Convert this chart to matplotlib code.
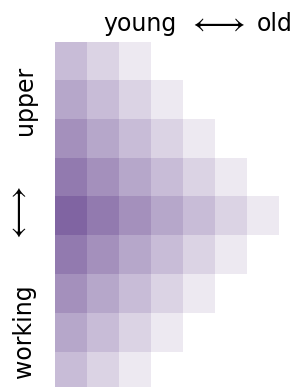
import numpy as np
import matplotlib.pyplot as plt
from matplotlib.colors import to_rgba

plt.rcParams['mathtext.fontset'] = 'cm'

# shade level per cell (row 0 = top "upper", row 8 = bottom "working"), 0 = empty
levels = [
    [3, 2, 1, 0, 0, 0, 0],
    [4, 3, 2, 1, 0, 0, 0],
    [5, 4, 3, 2, 1, 0, 0],
    [6, 5, 4, 3, 2, 1, 0],
    [7, 6, 5, 4, 3, 2, 1],
    [6, 5, 4, 3, 2, 1, 0],
    [5, 4, 3, 2, 1, 0, 0],
    [4, 3, 2, 1, 0, 0, 0],
    [3, 2, 1, 0, 0, 0, 0],
]
max_level = 7
base_color = '#8064a2'

arrow = r'$\longleftrightarrow$'
x_labels = ['young', 'old']
y_labels = ['upper', 'working']

W, H = 298, 387
fig = plt.figure(figsize=(W / 100, H / 100), dpi=100)

lev = np.array(levels, dtype=float)
rgba = np.zeros(lev.shape + (4,))
rgba[..., :3] = to_rgba(base_color)[:3]
rgba[..., 3] = lev / max_level

# grid: x 55..278, y 42..~391 px (last row slightly clipped by figure edge)
x0, x1 = 55, 279
y0, y1 = 42, 42 + 9 * 38.8
ax = fig.add_axes([x0 / W, (H - y1) / H, (x1 - x0) / W, (y1 - y0) / H])
ax.imshow(rgba, aspect='auto', interpolation='nearest')
ax.axis('off')

# top: young <-> old
fig.text(177 / W, (H - 31) / H, x_labels[0], ha='right', va='baseline', fontsize=17)
fig.text(216 / W, (H - 22) / H, arrow, ha='center', va='center', fontsize=24)
fig.text(257 / W, (H - 31) / H, x_labels[1], ha='left', va='baseline', fontsize=17)

# left: upper <-> working
fig.text(25 / W, (H - 100) / H, y_labels[0], ha='center', va='center', rotation=90, fontsize=17)
fig.text(17 / W, (H - 215) / H, arrow, ha='center', va='center', rotation=90, fontsize=24)
fig.text(24 / W, (H - 331) / H, y_labels[1], ha='center', va='center', rotation=90, fontsize=17)

fig.savefig('out.png', dpi=100)
